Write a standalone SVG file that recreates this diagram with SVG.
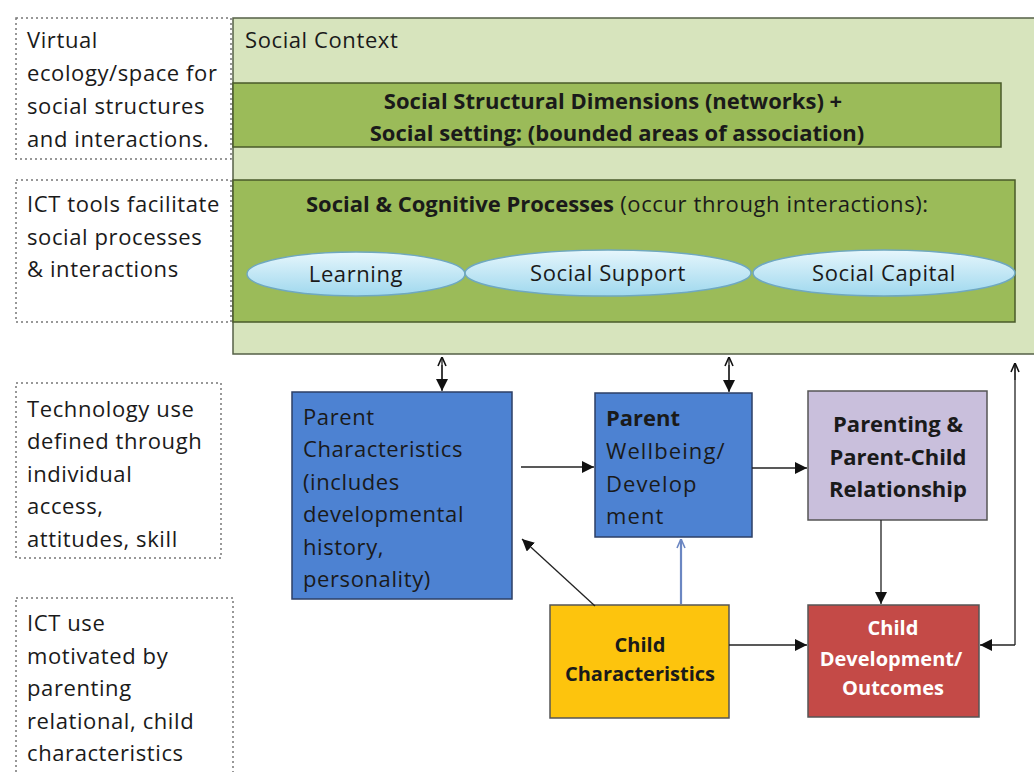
<svg xmlns="http://www.w3.org/2000/svg" width="1034" height="772" viewBox="0 0 1034 772">
<defs>
<style>
.t{font-family:"Open Sans","Liberation Sans",sans-serif;font-size:22px;letter-spacing:0.6px;fill:#1a1a1a}
.b{font-weight:bold;letter-spacing:0}
.s{font-size:20px}
.w{fill:#fff}
.note{fill:#fff;stroke:#777;stroke-width:1.5;stroke-dasharray:2 3}
.band{fill:#9bbb59;stroke:#4a5a2a;stroke-width:1.5}
.con{fill:none;stroke:#222;stroke-width:1.3}
.ell{fill:url(#eg);stroke:#6fa8c0;stroke-width:1.5}
</style>
<linearGradient id="eg" x1="0" y1="0" x2="0" y2="1">
<stop offset="0" stop-color="#e6f6fc"/>
<stop offset="1" stop-color="#9fd8ee"/>
</linearGradient>
<marker id="ah" viewBox="0 0 10 10" refX="10" refY="5" markerWidth="12" markerHeight="12" markerUnits="userSpaceOnUse" orient="auto">
<path d="M0,0 L10,5 L0,10 z" fill="#111"/>
</marker>
<marker id="oh" viewBox="0 0 10 10" refX="10" refY="5" markerWidth="10" markerHeight="10" markerUnits="userSpaceOnUse" orient="auto">
<path d="M1,1 L10,5 L1,9" fill="none" stroke="#111" stroke-width="1.6"/>
</marker>
<marker id="bh" viewBox="0 0 10 10" refX="10" refY="5" markerWidth="10" markerHeight="10" markerUnits="userSpaceOnUse" orient="auto">
<path d="M1,1 L10,5 L1,9" fill="none" stroke="#6b86c2" stroke-width="1.6"/>
</marker>
</defs>
<rect width="1034" height="772" fill="#fff"/>

<g id="note-virtual">
<rect class="note" x="16" y="18" width="215" height="141"/>
<text class="t" x="27" y="48">Virtual</text>
<text class="t" x="27" y="81">ecology/space for</text>
<text class="t" x="27" y="114">social structures</text>
<text class="t" x="27" y="147">and interactions.</text>
</g>
<g id="note-ict-tools">
<rect class="note" x="16" y="180" width="215" height="142"/>
<text class="t" x="27" y="212">ICT tools facilitate</text>
<text class="t" x="27" y="245">social processes</text>
<text class="t" x="27" y="277">&amp; interactions</text>
</g>
<g id="note-technology">
<rect class="note" x="16" y="383" width="205" height="175"/>
<text class="t" x="27" y="417">Technology use</text>
<text class="t" x="27" y="449">defined through</text>
<text class="t" x="27" y="482">individual</text>
<text class="t" x="27" y="514">access,</text>
<text class="t" x="27" y="547">attitudes, skill</text>
</g>
<g id="note-ict-use">
<rect class="note" x="16" y="598" width="217" height="190"/>
<text class="t" x="27" y="631">ICT use</text>
<text class="t" x="27" y="664">motivated by</text>
<text class="t" x="27" y="696">parenting</text>
<text class="t" x="27" y="729">relational, child</text>
<text class="t" x="27" y="761">characteristics</text>
</g>

<g id="social-context">
<rect x="233" y="18" width="805" height="336" fill="#d7e4bd" stroke="#556047" stroke-width="1.5"/>
<text class="t" x="245" y="48">Social Context</text>
</g>
<g id="structural-dimensions">
<rect class="band" x="233" y="83" width="768" height="64"/>
<text class="t b" x="613" y="109" text-anchor="middle">Social Structural Dimensions (networks) +</text>
<text class="t b" x="617" y="141" text-anchor="middle">Social setting: (bounded areas of association)</text>
</g>
<g id="processes">
<rect class="band" x="233" y="180" width="782" height="142"/>
<text class="t" x="306" y="212"><tspan class="b">Social &amp; Cognitive Processes</tspan> (occur through interactions):</text>
</g>
<g id="learning">
<ellipse class="ell" cx="356" cy="274" rx="109" ry="22"/>
<text class="t" x="356" y="282" text-anchor="middle">Learning</text>
</g>
<g id="social-support">
<ellipse class="ell" cx="608" cy="273" rx="143" ry="23"/>
<text class="t" x="608" y="281" text-anchor="middle">Social Support</text>
</g>
<g id="social-capital">
<ellipse class="ell" cx="884" cy="273" rx="131" ry="23"/>
<text class="t" x="884" y="281" text-anchor="middle">Social Capital</text>
</g>

<g id="parent-characteristics">
<rect x="292" y="392" width="220" height="207" fill="#4d82d2" stroke="#2d3f66" stroke-width="1.5"/>
<text class="t" x="303" y="425">Parent</text>
<text class="t" x="303" y="457">Characteristics</text>
<text class="t" x="303" y="490">(includes</text>
<text class="t" x="303" y="522">developmental</text>
<text class="t" x="303" y="555">history,</text>
<text class="t" x="303" y="587">personality)</text>
</g>
<g id="parent-wellbeing">
<rect x="595" y="393" width="157" height="144" fill="#4d82d2" stroke="#2d3f66" stroke-width="1.5"/>
<text class="t b" x="606" y="426">Parent</text>
<text class="t" x="606" y="459" style="letter-spacing:1.1px">Wellbeing/</text>
<text class="t" x="606" y="492" style="letter-spacing:1.1px">Develop</text>
<text class="t" x="606" y="524" style="letter-spacing:1.1px">ment</text>
</g>
<g id="parenting">
<rect x="808" y="391" width="179" height="129" fill="#c9bfdc" stroke="#555" stroke-width="1.5"/>
<text class="t b" x="898" y="432" text-anchor="middle">Parenting &amp;</text>
<text class="t b" x="898" y="465" text-anchor="middle">Parent-Child</text>
<text class="t b" x="898" y="497" text-anchor="middle">Relationship</text>
</g>
<g id="child-characteristics">
<rect x="550" y="605" width="179" height="113" fill="#fdc40d" stroke="#555" stroke-width="1.5"/>
<text class="t b s" x="640" y="652" text-anchor="middle">Child</text>
<text class="t b s" x="640" y="681" text-anchor="middle">Characteristics</text>
</g>
<g id="child-development">
<rect x="808" y="605" width="171" height="112" fill="#c44a47" stroke="#555" stroke-width="1.5"/>
<text class="t b s w" x="893" y="635" text-anchor="middle">Child</text>
<text class="t b s w" x="891" y="666" text-anchor="middle">Development/</text>
<text class="t b s w" x="893" y="695" text-anchor="middle">Outcomes</text>
</g>

<g id="connectors">
<line class="con" x1="442" y1="390" x2="442" y2="357" marker-end="url(#oh)"/>
<line class="con" x1="442" y1="365" x2="442" y2="391" marker-end="url(#ah)"/>
<line class="con" x1="729" y1="391" x2="729" y2="357" marker-end="url(#oh)"/>
<line class="con" x1="729" y1="365" x2="729" y2="392" marker-end="url(#ah)"/>
<line class="con" x1="521" y1="467" x2="594" y2="467" marker-end="url(#ah)"/>
<line class="con" x1="752" y1="468" x2="807" y2="468" marker-end="url(#ah)"/>
<line class="con" x1="595" y1="606" x2="522" y2="539" marker-end="url(#ah)"/>
<line x1="681" y1="604" x2="681" y2="539" stroke="#6b86c2" stroke-width="2.2" marker-end="url(#bh)"/>
<line class="con" x1="881" y1="520" x2="881" y2="604" marker-end="url(#ah)"/>
<line class="con" x1="729" y1="645" x2="807" y2="645" marker-end="url(#ah)"/>
<polyline class="con" points="1015,645 1015,364"/>
<line class="con" x1="1015" y1="380" x2="1015" y2="363" marker-end="url(#oh)"/>
<line class="con" x1="1015" y1="645" x2="980" y2="645" marker-end="url(#ah)"/>
</g>
</svg>
